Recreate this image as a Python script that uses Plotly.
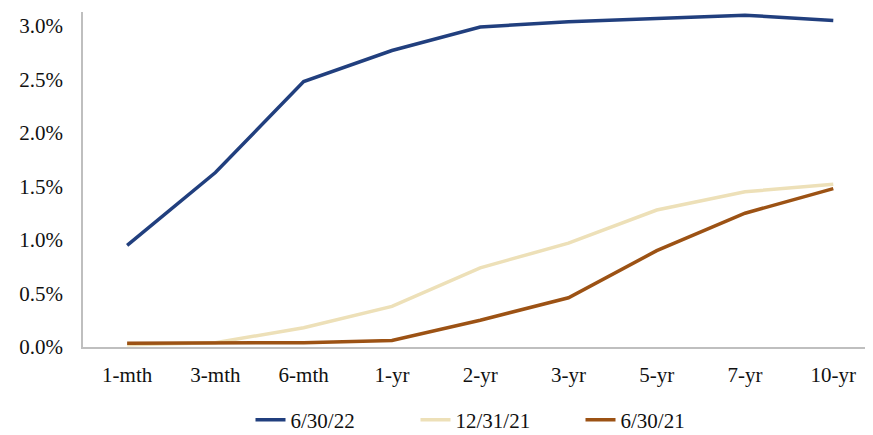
import plotly.graph_objects as go

categories = ["1-mth", "3-mth", "6-mth", "1-yr", "2-yr", "3-yr", "5-yr", "7-yr", "10-yr"]
y_6_30_22 = [0.95, 1.63, 2.48, 2.77, 2.99, 3.04, 3.07, 3.10, 3.05]
y_12_31_21 = [0.02, 0.04, 0.18, 0.38, 0.74, 0.97, 1.28, 1.45, 1.52]
y_6_30_21 = [0.035, 0.04, 0.04, 0.06, 0.25, 0.46, 0.90, 1.25, 1.48]
y_ticks = [0, 0.5, 1.0, 1.5, 2.0, 2.5, 3.0]
y_tick_labels = [f"{v:.1f}%" for v in y_ticks]

series = [
    ("6/30/22", y_6_30_22, "#213F7E"),
    ("12/31/21", y_12_31_21, "#EDE0B8"),
    ("6/30/21", y_6_30_21, "#9C5214"),
]

fig = go.Figure()
for name, vals, color in series:
    fig.add_trace(go.Scatter(
        x=categories, y=vals, name=name, mode="lines",
        line=dict(color=color, width=3.5),
    ))

font = dict(family="Liberation Serif, Times New Roman, serif", size=21, color="#111111")

# page body has an 8px default margin; figure is sized to fit the window
W, H = 865, 427
L, R, T, B = 75, 0, 4, 88

fig.update_layout(
    width=W, height=H,
    margin=dict(l=L, r=R, t=T, b=B, autoexpand=False),
    paper_bgcolor="white", plot_bgcolor="white",
    font=font,
    showlegend=True,
    legend=dict(
        orientation="h", xref="paper", yref="paper",
        x=(490 - L) / (W - L - R), xanchor="center",
        y=-(412 - (H - B)) / (H - B - T), yanchor="middle",
        font=font, traceorder="normal",
        entrywidth=120, entrywidthmode="pixels",
        bgcolor="rgba(0,0,0,0)",
    ),
    xaxis=dict(
        type="category", range=[-0.5, 8.45],
        showline=True, linecolor="#BFBFBF", linewidth=1.5,
        showgrid=False, ticks="", ticklabelstandoff=8,
        tickfont=font, zeroline=False, automargin=False,
    ),
    yaxis=dict(
        range=[0, 3.13], tickvals=y_ticks, ticktext=y_tick_labels,
        showline=True, linecolor="#BFBFBF", linewidth=1.5,
        showgrid=False, ticks="", ticklabelstandoff=14,
        tickfont=font, zeroline=False, automargin=False,
    ),
)

fig.write_html("out.html")
